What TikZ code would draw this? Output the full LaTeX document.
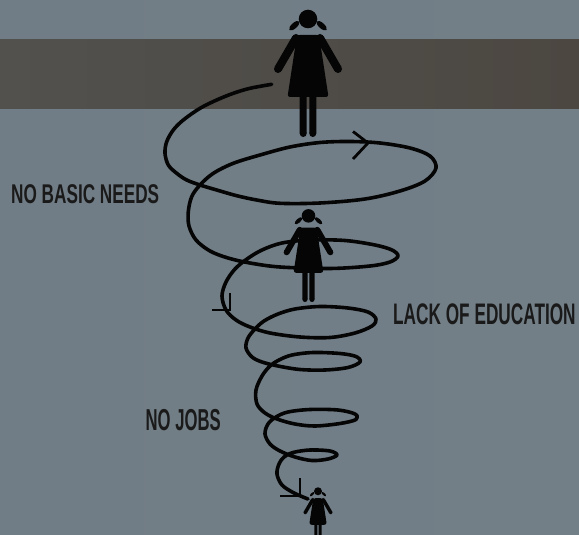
\documentclass[tikz,border=0pt]{standalone}
\usepackage{fontspec}
\newfontfamily\lblfont{Liberation Sans Bold}
\definecolor{bgL}{HTML}{717D86}
\definecolor{bgM}{HTML}{7E8B94}
\definecolor{bgR}{HTML}{737F87}
\definecolor{bandL}{HTML}{52514E}
\definecolor{bandR}{HTML}{4C4741}
\definecolor{ink}{HTML}{050505}
\definecolor{lblcol}{HTML}{1A1A1A}
\newcommand\squeezed[2]{\scalebox{#1}[1]{#2}}
\tikzset{
  spiral/.style={draw=ink, line width=3.6pt, line cap=round, line join=round},
  tick/.style={draw=ink, line width=2.8pt, line cap=butt, line join=miter},
  lbl/.style={inner sep=0pt, anchor=base west, text=lblcol},
  girl/.pic={
    % head with two pigtails
    \fill[ink] (0,-118) circle (9.3);
    \fill[ink, shift={(-13.7,-111.3)}, rotate=42] (0,0) ellipse (6.5 and 2.8);
    \fill[ink, shift={(13.7,-111.3)}, rotate=-42] (0,0) ellipse (6.5 and 2.8);
    % dress
    \fill[ink, rounded corners=2.5] (-11,-102) -- (11,-102) -- (20.5,-40) -- (-20.5,-40) -- cycle;
    % arms
    \fill[ink] (-8.5,-97) -- (-26.5,-66) -- (-33.5,-70) -- (-15.5,-101) -- cycle;
    \fill[ink] (-12,-99) circle (4) (-30,-68) circle (4);
    \fill[ink] (8.5,-97) -- (26.5,-66) -- (33.5,-70) -- (15.5,-101) -- cycle;
    \fill[ink] (12,-99) circle (4) (30,-68) circle (4);
    % legs
    \fill[ink] (-8.3,-42) rectangle (-1.3,-3.5) (1.3,-42) rectangle (8.3,-3.5);
    \fill[ink] (-4.8,-3.5) circle (3.5) (4.8,-3.5) circle (3.5);
  }
}
\begin{document}
\begin{tikzpicture}[x=1pt, y=-1pt]
\useasboundingbox (0,0) rectangle (579,535);
\clip (0,0) rectangle (579,535);
% backdrop and dark band
\shade[left color=bgL, middle color=bgM, right color=bgR] (0,0) rectangle (579,535);
\shade[left color=bandL, right color=bandR] (0,40) rectangle (579,109);

% the descending spiral
\draw[spiral] plot[smooth, tension=0.55] coordinates {
  (271.7,84.3) (250,88.3) (233.3,93.3) (216.7,100) (200,108.3) (183.3,120)
  (173.3,130) (166.7,141.7) (165,153.3) (168.3,165) (176.7,173.3) (186.7,180)
  (200,185) (216.7,190) (236.7,195.7) (256.7,200) (280,203.3)
  (320,203) (365,199) (400,191) (425,181) (436,168) (430,156) (410,148)
  (380,143) (350,141.5) (320,142.5) (290,147) (260,155) (233.3,163.3)
  (213.3,173.3) (200,185) (191.7,196.7) (188.3,211.7) (189,226) (196,240)
  (210,251) (228,258) (250,263) (280,267) (330,268.5) (370,266) (390,262)
  (398,256) (392,250) (375,245) (345,240.5) (310,240) (282,243) (262,250)
  (247,259) (235,269) (226,282) (222,296) (226,310) (236,320) (250,327)
  (270,333) (300,337) (330,337.5) (355,333) (372,326) (376,319) (368,312)
  (348,308) (320,306.5) (295,309) (278,314) (264,321) (255,329) (248,338)
  (246,348) (252,357) (262,362) (278,366) (300,369.5) (325,370) (348,367.5)
  (360,362) (356,356.5) (340,353.5) (313,352.5) (292,355) (279,360) (270,366)
  (262,376) (256,390) (257,404) (265,413) (277,419) (295,424) (315,426)
  (340,423.5) (356,419.5) (355,414) (338,410) (310,409.5) (288,412) (276,417)
  (268,424) (265,434) (270,444) (280,451) (295,457) (312,460.5) (328,459)
  (337,455) (330,451) (310,450) (293,452.5) (284,457) (279,464) (277,474)
  (282,485) (294,493) (308,499)
};

% arrowheads along the spiral
\coordinate (tipA) at (368,143);
\coordinate (tipB) at (230,310);
\coordinate (tipC) at (300,496);
\draw[tick] (tipA) ++(-15,-11.5) -- (tipA) -- ++(-15,16);
\draw[tick] (tipB) ++(-18,0) -- (tipB) -- ++(0,-17);
\draw[tick] (tipC) ++(-20,0) -- (tipC) -- ++(0,-18);

% the three figures
\pic (bigGirl) at (308,137) {girl};
\pic[scale=0.73] (midGirl) at (308.5,302) {girl};
\pic[scale=0.43] (smallGirl) at (318,542) {girl};

% labels
\node[lbl, font=\lblfont\fontsize{27.1}{30}\selectfont] (needs) at (11,203) {\squeezed{0.634}{NO BASIC NEEDS}};
\node[lbl, font=\lblfont\fontsize{29.7}{32}\selectfont] (education) at (393,324) {\squeezed{0.58}{LACK OF EDUCATION}};
\node[lbl, font=\lblfont\fontsize{30.3}{32}\selectfont] (jobs) at (145.5,430) {\squeezed{0.55}{NO JOBS}};
\end{tikzpicture}
\end{document}
